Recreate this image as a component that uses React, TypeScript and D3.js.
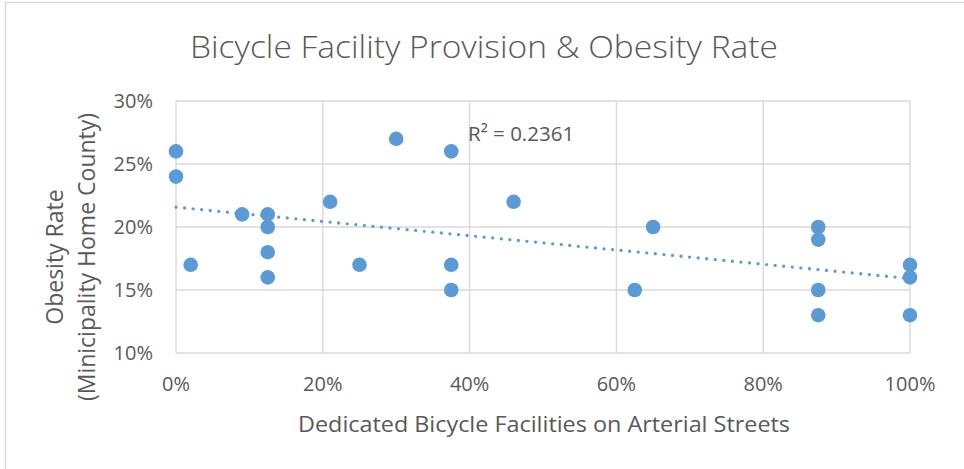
import React from 'react';
import * as d3 from 'd3';

// share of arterial streets with dedicated bicycle facilities (%)
const facilityShare = [
  0, 0, 2, 9, 12.5, 12.5, 12.5, 12.5, 21, 25, 30, 37.5, 37.5, 37.5, 46, 62.5, 65,
  87.5, 87.5, 87.5, 87.5, 100, 100, 100,
];
// obesity rate of the municipality's home county (%)
const obesityRate = [
  26, 24, 17, 21, 21, 20, 18, 16, 22, 17, 27, 26, 17, 15, 22, 15, 20, 20, 19, 15,
  13, 17, 16, 13,
];
const xTicks = [0, 20, 40, 60, 80, 100];
const yTicks = [10, 15, 20, 25, 30];

const chartTitle = 'Bicycle Facility Provision & Obesity Rate';
const xTitle = 'Dedicated Bicycle Facilities on Arterial Streets';
const yTitleLines = ['Obesity Rate', '(Minicipality Home County)'];
const rSquaredLabel = 'R² = 0.2361';

const W = 964;
const H = 469;
const margin = { top: 101, right: 54, bottom: 116, left: 176 };

const textColor = '#595959';
const gridColor = '#d9d9d9';
const pointColor = '#5b9bd5';
const font = '"Open Sans", sans-serif';

const App = () => {
  const plotW = W - margin.left - margin.right;
  const plotH = H - margin.top - margin.bottom;

  const x = d3.scaleLinear().domain([0, 100]).range([margin.left, margin.left + plotW]);
  const y = d3.scaleLinear().domain([10, 30]).range([margin.top + plotH, margin.top]);

  // linear trendline (least squares)
  const pairs = facilityShare.map((v, i) => [v, obesityRate[i]]);
  const mx = d3.mean(facilityShare);
  const my = d3.mean(obesityRate);
  const slope =
    d3.sum(pairs, (p) => (p[0] - mx) * (p[1] - my)) /
    d3.sum(pairs, (p) => (p[0] - mx) ** 2);
  const intercept = my - slope * mx;
  const trend = d3
    .line()
    .x((d) => x(d))
    .y((d) => y(intercept + slope * d));

  const fmt = (v) => `${v}%`;
  const yMid = 257;

  return (
    <svg
      width={W}
      height={H}
      style={{ position: 'absolute', left: 0, top: 0, background: '#fff' }}
      fontFamily={font}
    >
      {/* chart area border */}
      <rect x={5.5} y={2.5} width={W + 20} height={H + 20} fill="#fff" stroke={gridColor} strokeWidth={1.3} />

      {/* gridlines */}
      {yTicks.map((t) => (
        <line key={`gy${t}`} x1={x(0)} x2={x(100)} y1={y(t)} y2={y(t)} stroke={gridColor} strokeWidth={1.4} />
      ))}
      {xTicks.map((t) => (
        <line key={`gx${t}`} x1={x(t)} x2={x(t)} y1={y(10)} y2={y(30)} stroke={gridColor} strokeWidth={1.4} />
      ))}

      {/* tick labels */}
      {yTicks.map((t) => (
        <text key={`ty${t}`} x={x(0) - 23} y={y(t)} dy="0.36em" textAnchor="end" fontSize={20} fill={textColor}>
          {fmt(t)}
        </text>
      ))}
      {xTicks.map((t) => (
        <text key={`tx${t}`} x={x(t)} y={391} textAnchor="middle" fontSize={20} fill={textColor}>
          {fmt(t)}
        </text>
      ))}

      {/* trendline */}
      <path
        d={trend([0, 100])}
        fill="none"
        stroke={pointColor}
        strokeWidth={3.3}
        strokeDasharray="0 8.6"
        strokeLinecap="round"
      />

      {/* points */}
      {pairs.map((p, i) => (
        <circle key={i} cx={x(p[0])} cy={y(p[1])} r={7.3} fill={pointColor} />
      ))}

      {/* R squared */}
      <text x={468} y={141} fontSize={20.5} fill={textColor}>
        {rSquaredLabel}
      </text>

      {/* titles */}
      <text x={484} y={58} textAnchor="middle" fontSize={31} fontWeight={300} fill={textColor} textLength={588} lengthAdjust="spacingAndGlyphs">
        {chartTitle}
      </text>
      <text x={544} y={432} textAnchor="middle" fontSize={22} fill={textColor} textLength={492} lengthAdjust="spacingAndGlyphs">
        {xTitle}
      </text>
      <text transform={`translate(63,${yMid}) rotate(-90)`} textAnchor="middle" fontSize={23} fill={textColor}>
        {yTitleLines[0]}
      </text>
      <text transform={`translate(95,${yMid}) rotate(-90)`} textAnchor="middle" fontSize={23} fill={textColor}>
        {yTitleLines[1]}
      </text>
    </svg>
  );
};

export default App;
